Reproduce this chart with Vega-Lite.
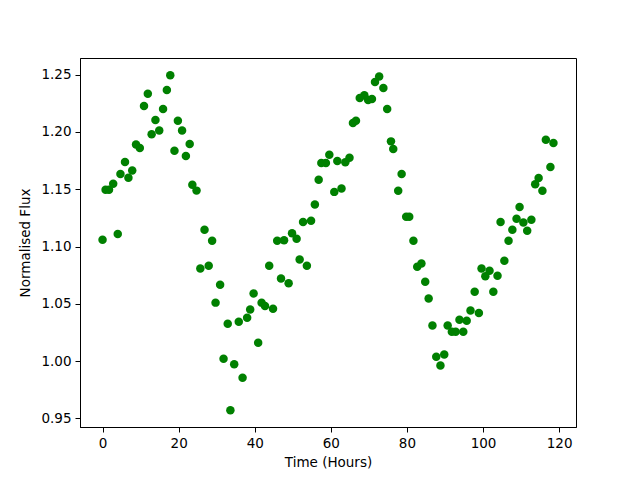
{
  "$schema": "https://vega.github.io/schema/vega-lite/v6.json",
  "width": 496,
  "height": 369,
  "autosize": {"type": "none"},
  "padding": {"left": 80, "top": 58, "right": 64, "bottom": 53},
  "background": "white",
  "config": {
    "view": {"stroke": "black", "strokeWidth": 1},
    "axis": {
      "domainColor": "black",
      "domainWidth": 1,
      "tickColor": "black",
      "tickWidth": 1,
      "tickSize": 5,
      "labelPadding": 4,
      "labelFont": "DejaVu Sans",
      "labelFontSize": 13.5,
      "labelColor": "black",
      "titleFont": "DejaVu Sans",
      "titleFontSize": 13.5,
      "titleFontWeight": "normal",
      "titleColor": "black",
      "grid": false
    }
  },
  "data": {
    "values": [
      {"t": 0, "flux": 1.1058}, {"t": 0.8, "flux": 1.1495}, {"t": 1.7, "flux": 1.1495}, {"t": 2.8, "flux": 1.1547},
      {"t": 4.0, "flux": 1.111}, {"t": 4.7, "flux": 1.1634}, {"t": 5.9, "flux": 1.1738}, {"t": 6.8, "flux": 1.160},
      {"t": 7.8, "flux": 1.1663}, {"t": 8.8, "flux": 1.189}, {"t": 9.8, "flux": 1.186}, {"t": 10.9, "flux": 1.2227},
      {"t": 11.9, "flux": 1.2334}, {"t": 12.9, "flux": 1.198}, {"t": 13.9, "flux": 1.2105}, {"t": 14.9, "flux": 1.2012},
      {"t": 15.9, "flux": 1.220}, {"t": 16.9, "flux": 1.2366}, {"t": 17.8, "flux": 1.2495}, {"t": 18.9, "flux": 1.1837},
      {"t": 19.8, "flux": 1.2099}, {"t": 20.9, "flux": 1.2012}, {"t": 21.9, "flux": 1.179}, {"t": 22.9, "flux": 1.1896},
      {"t": 23.6, "flux": 1.154}, {"t": 24.7, "flux": 1.1488}, {"t": 25.7, "flux": 1.0808}, {"t": 26.8, "flux": 1.1146},
      {"t": 27.9, "flux": 1.0832}, {"t": 28.8, "flux": 1.105}, {"t": 29.7, "flux": 1.051}, {"t": 30.9, "flux": 1.0666},
      {"t": 31.8, "flux": 1.002}, {"t": 32.9, "flux": 1.0326}, {"t": 33.6, "flux": 0.957}, {"t": 34.6, "flux": 0.9971},
      {"t": 35.8, "flux": 1.0343}, {"t": 36.8, "flux": 0.9855}, {"t": 38.0, "flux": 1.0378}, {"t": 38.8, "flux": 1.045},
      {"t": 39.7, "flux": 1.059}, {"t": 40.9, "flux": 1.016}, {"t": 41.8, "flux": 1.051}, {"t": 42.7, "flux": 1.048},
      {"t": 43.8, "flux": 1.0832}, {"t": 44.8, "flux": 1.0457}, {"t": 45.9, "flux": 1.105}, {"t": 46.9, "flux": 1.072},
      {"t": 47.7, "flux": 1.1055}, {"t": 48.9, "flux": 1.068}, {"t": 49.8, "flux": 1.1116}, {"t": 51.0, "flux": 1.1067},
      {"t": 51.8, "flux": 1.0887}, {"t": 52.7, "flux": 1.1215}, {"t": 53.7, "flux": 1.0832}, {"t": 54.8, "flux": 1.1224},
      {"t": 55.8, "flux": 1.1366}, {"t": 56.8, "flux": 1.1582}, {"t": 57.5, "flux": 1.173}, {"t": 58.7, "flux": 1.173},
      {"t": 59.6, "flux": 1.1802}, {"t": 60.9, "flux": 1.1477}, {"t": 61.7, "flux": 1.1747}, {"t": 62.8, "flux": 1.1506},
      {"t": 63.8, "flux": 1.1735}, {"t": 64.9, "flux": 1.1776}, {"t": 65.8, "flux": 1.2079}, {"t": 66.6, "flux": 1.2099},
      {"t": 67.6, "flux": 1.2297}, {"t": 68.8, "flux": 1.232}, {"t": 69.8, "flux": 1.228}, {"t": 70.8, "flux": 1.2288},
      {"t": 71.6, "flux": 1.2436}, {"t": 72.7, "flux": 1.2485}, {"t": 73.8, "flux": 1.2384}, {"t": 74.8, "flux": 1.220},
      {"t": 75.8, "flux": 1.1918}, {"t": 76.4, "flux": 1.1852}, {"t": 77.7, "flux": 1.1486}, {"t": 78.6, "flux": 1.1634},
      {"t": 79.8, "flux": 1.1259}, {"t": 80.6, "flux": 1.1259}, {"t": 81.7, "flux": 1.105}, {"t": 82.7, "flux": 1.0823},
      {"t": 83.8, "flux": 1.0852}, {"t": 84.8, "flux": 1.0692}, {"t": 85.7, "flux": 1.0547}, {"t": 86.7, "flux": 1.0311},
      {"t": 87.7, "flux": 1.0038}, {"t": 88.8, "flux": 0.9962}, {"t": 89.8, "flux": 1.0058}, {"t": 90.7, "flux": 1.0311},
      {"t": 91.8, "flux": 1.0256}, {"t": 92.8, "flux": 1.0256}, {"t": 93.8, "flux": 1.0361}, {"t": 94.8, "flux": 1.0256},
      {"t": 95.7, "flux": 1.0352}, {"t": 96.7, "flux": 1.0442}, {"t": 97.8, "flux": 1.0605}, {"t": 98.9, "flux": 1.0419},
      {"t": 99.6, "flux": 1.0808}, {"t": 100.6, "flux": 1.0741}, {"t": 101.7, "flux": 1.0788}, {"t": 102.7, "flux": 1.0605},
      {"t": 103.8, "flux": 1.0744}, {"t": 104.6, "flux": 1.1215}, {"t": 105.6, "flux": 1.0875}, {"t": 106.7, "flux": 1.105},
      {"t": 107.7, "flux": 1.1146}, {"t": 108.8, "flux": 1.1242}, {"t": 109.6, "flux": 1.1346}, {"t": 110.6, "flux": 1.1209},
      {"t": 111.6, "flux": 1.1137}, {"t": 112.7, "flux": 1.1233}, {"t": 113.7, "flux": 1.1543}, {"t": 114.6, "flux": 1.1599},
      {"t": 115.6, "flux": 1.1486}, {"t": 116.5, "flux": 1.1933}, {"t": 117.7, "flux": 1.1695}, {"t": 118.5, "flux": 1.1904}
    ]
  },
  "mark": {"type": "circle", "size": 72, "color": "#008000", "opacity": 1},
  "encoding": {
    "x": {
      "field": "t", "type": "quantitative",
      "scale": {"domain": [-5.925, 124.425], "nice": false, "zero": false},
      "axis": {"values": [0, 20, 40, 60, 80, 100, 120], "title": "Time (Hours)", "titlePadding": 6}
    },
    "y": {
      "field": "flux", "type": "quantitative",
      "scale": {"domain": [0.9424, 1.2646], "nice": false, "zero": false},
      "axis": {"values": [0.95, 1.0, 1.05, 1.1, 1.15, 1.2, 1.25], "format": ".2f", "title": "Normalised Flux", "titlePadding": 8}
    }
  }
}
